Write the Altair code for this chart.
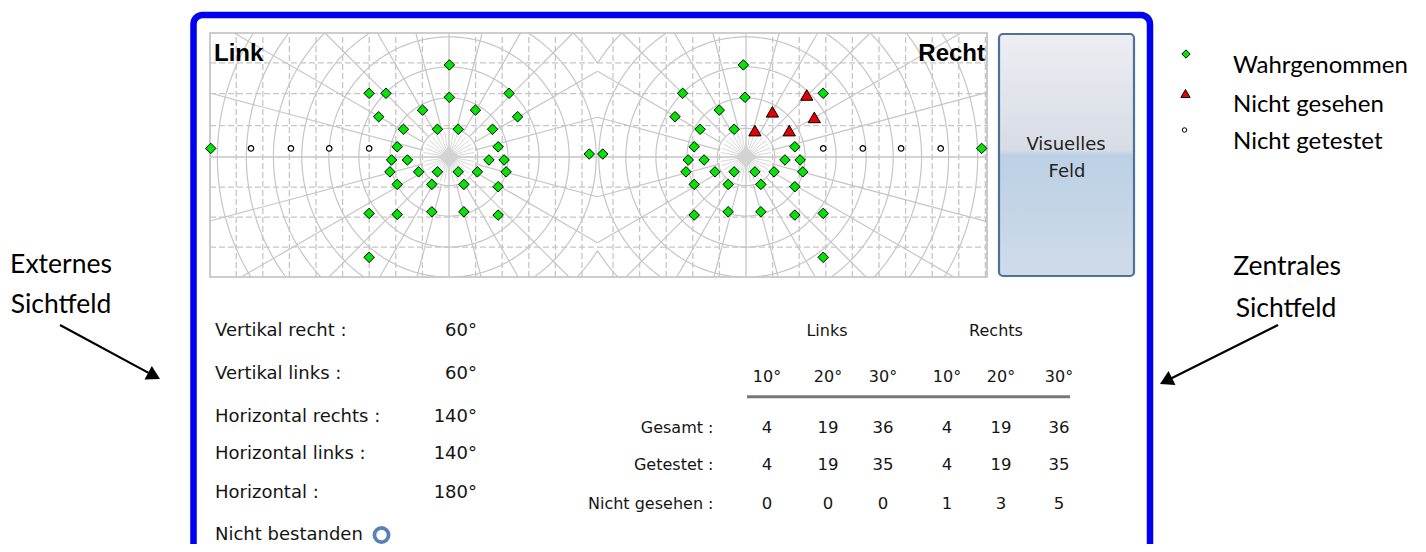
import math
import altair as alt
import numpy as np
import pandas as pd

# ---------------------------------------------------------------- data
# Visual-field test points, in degrees from each eye's fixation point (x right, y up)
left_seen_x = [0.1, -24.2, -19.1, 0.1, 18.2, -21.3, -8.0, 8.0, 20.8, -13.8, -3.5, 2.8, 13.2,
               -15.7, 14.9, -17.4, -12.6, 12.1, 16.7, -17.9, -9.2, -3.5, 2.8, 8.6, 17.3,
               -15.7, -5.2, 4.5, 14.9, -24.2, -15.7, -5.2, 4.5, 14.9, -24.2, -72.2, 42.5, 46.6]
left_seen_y = [27.9, 19.3, 19.3, 18.1, 19.3, 12.2, 14.2, 14.2, 12.2, 8.4, 8.4, 8.4, 8.4,
               3.1, 3.1, -0.9, -0.9, -0.9, -0.9, -4.5, -4.5, -4.5, -4.5, -4.5, -4.5,
               -8.3, -8.3, -8.3, -9.0, -17.1, -17.4, -16.6, -16.6, -17.6, -30.4, 2.6, 0.9, 0.9]
left_untested_x = [-60.0, -47.9, -36.3, -24.2]
left_untested_y = [2.6, 2.6, 2.6, 2.6]

right_seen_x = [-0.8, -19.2, -0.3, 23.4, -21.5, -8.1, -13.9, -3.6, -15.7, 14.8, -17.5, -12.7,
                11.8, 16.4, -18.2, -9.4, -3.6, 2.7, 8.5, 17.2, -15.7, -5.4, 4.5, 14.8,
                -15.7, -5.4, 4.5, 14.8, 23.4, 23.4, 71.4]
right_seen_y = [27.9, 19.3, 18.1, 19.3, 12.2, 14.2, 8.4, 8.4, 3.1, 3.1, -0.9, -0.9,
                -0.9, -0.9, -4.5, -4.5, -4.5, -4.5, -4.5, -4.5, -8.3, -8.3, -8.3, -9.0,
                -17.6, -16.6, -16.6, -17.6, -17.1, -30.4, 2.6]
right_missed_x = [18.4, 8.0, 20.7, 2.7, 13.1]
right_missed_y = [18.8, 13.7, 12.0, 8.0, 8.0]
right_untested_x = [23.4, 35.4, 47.0, 59.0]
right_untested_y = [2.6, 2.6, 2.6, 2.6]

legend_labels = ["Wahrgenommen", "Nicht gesehen", "Nicht getestet"]

extern_labels = ["Vertikal recht :", "Vertikal links :", "Horizontal rechts :",
                 "Horizontal links :", "Horizontal :"]
extern_values = [60, 60, 140, 140, 180]
extern_status = "Nicht bestanden"

table_sides = ["Links", "Rechts"]
table_angles = ["10°", "20°", "30°", "10°", "20°", "30°"]
table_rows = ["Gesamt :", "Getestet :", "Nicht gesehen :"]
gesamt = [4, 19, 36, 4, 19, 36]
getestet = [4, 19, 35, 4, 19, 35]
nicht_gesehen = [0, 0, 0, 1, 3, 5]

annot_left = ["Externes", "Sichtfeld"]
annot_right = ["Zentrales", "Sichtfeld"]
button_lines = ["Visuelles", "Feld"]
eye_titles = ["Link", "Recht"]

# ---------------------------------------------------------------- layout
X0, Y0, W, H = 8, 8, 1410, 536       # page margin and drawing size (page pixels)
PX = 3.3                              # pixels per degree in the field plot
MIDX, CY = 597.5, 157.0               # midline and fixation line of the field plot
EYE = 45.0                            # eye centre offset from midline, degrees
FL, FR, FT, FB = 210, 987, 33, 277    # field box (page pixels)
BX0, BX1 = (FL - MIDX) / PX, (FR - MIDX) / PX
BY0, BY1 = (CY - FB) / PX, (CY - FT) / PX

GRID = "#c6c6c6"
TXT = "#151515"
DLG = "DejaVu Sans"


def sc(kind):
    if kind == "px":
        return (alt.Scale(domain=[X0, X0 + W], nice=False, zero=False),
                alt.Scale(domain=[Y0, Y0 + H], nice=False, zero=False, reverse=True))
    return (alt.Scale(domain=[(X0 - MIDX) / PX, (X0 + W - MIDX) / PX], nice=False, zero=False),
            alt.Scale(domain=[(CY - (Y0 + H)) / PX, (CY - Y0) / PX], nice=False, zero=False))


def enc(kind, x="x", y="y", x2=None, y2=None, **extra):
    sx, sy = sc(kind)
    e = dict(x=alt.X(x, type="quantitative", scale=sx, axis=None),
             y=alt.Y(y, type="quantitative", scale=sy, axis=None))
    if x2:
        e["x2"] = alt.X2(x2)
    if y2:
        e["y2"] = alt.Y2(y2)
    e.update(extra)
    return e


# ---------------------------------------------------------------- grid geometry (decoration)
def clip_seg(x0, y0, x1, y1, xmin, xmax, ymin, ymax):
    dx, dy = x1 - x0, y1 - y0
    u0, u1 = 0.0, 1.0
    for p, q in ((-dx, x0 - xmin), (dx, xmax - x0), (-dy, y0 - ymin), (dy, ymax - y0)):
        if p == 0:
            if q < 0:
                return None
        else:
            t = q / p
            if p < 0:
                u0 = max(u0, t)
            else:
                u1 = min(u1, t)
    if u0 > u1:
        return None
    return (x0 + u0 * dx, y0 + u0 * dy, x0 + u1 * dx, y0 + u1 * dy)


def clip_poly(pts, box):
    paths, cur = [], None
    for a, b in zip(pts[:-1], pts[1:]):
        c = clip_seg(a[0], a[1], b[0], b[1], *box)
        if c is None:
            cur = None
            continue
        if cur is not None and abs(cur[-1][0] - c[0]) < 1e-9 and abs(cur[-1][1] - c[1]) < 1e-9:
            cur.append((c[2], c[3]))
        else:
            cur = [(c[0], c[1]), (c[2], c[3])]
            paths.append(cur)
    return paths


ring_radii = [8.7, 17.9, 27.3, 36.4, 44.6, 53.2, 61.4, 70.2]
rows = []
pid = 0
for cx, box in ((-EYE, (BX0, 0.0, BY0, BY1)), (EYE, (0.0, BX1, BY0, BY1))):
    polys = []
    ang = np.radians(np.arange(0, 361, 1.0))
    for r in ring_radii:
        polys.append(list(zip(cx + r * np.cos(ang), r * np.sin(ang))))
    for a in range(0, 360, 15):
        if a % 90 == 0:
            continue
        t = math.radians(a)
        polys.append([(cx + 8.7 * math.cos(t), 8.7 * math.sin(t)),
                      (cx + 200 * math.cos(t), 200 * math.sin(t))])
    for poly in polys:
        for path in clip_poly(poly, box):
            for k, (xx, yy) in enumerate(path):
                rows.append(dict(pid=pid, k=k, x=xx, y=yy))
            pid += 1
grid_lines = pd.DataFrame(rows)

spokes = []
for cx in (-EYE, EYE):
    for a in range(0, 360, 10):
        t = math.radians(a)
        spokes.append(dict(x=cx + 1.5 * math.cos(t), y=1.5 * math.sin(t),
                           x2=cx + 7.8 * math.cos(t), y2=7.8 * math.sin(t)))
spokes = pd.DataFrame(spokes)

vstep = 8.06
dash_v = [c + vstep * k for c, lo, hi in ((-EYE, BX0, 0.0), (EYE, 0.0, BX1))
          for k in range(-10, 11) if k != 0 and lo < c + vstep * k < hi]
dash_v = pd.DataFrame(dict(x=dash_v, y=BY0, y2=BY1))
dash_h = pd.DataFrame(dict(y=[9.5, 19.2, 28.5, -9.1, -18.2, -27.3], x=BX0, x2=BX1))
axes_v = pd.DataFrame(dict(x=[-EYE, EYE], y=BY0, y2=BY1))
axes_h = pd.DataFrame(dict(y=[0.0], x=BX0, x2=BX1))
centres = pd.DataFrame(dict(x=[-EYE, EYE], y=[0.0, 0.0]))

# ---------------------------------------------------------------- field points
def pts(xs, ys, off):
    return pd.DataFrame(dict(x=[off + v for v in xs], y=ys))

seen = pd.concat([pts(left_seen_x, left_seen_y, -EYE), pts(right_seen_x, right_seen_y, EYE)])
missed = pts(right_missed_x, right_missed_y, EYE)
untested = pd.concat([pts(left_untested_x, left_untested_y, -EYE),
                      pts(right_untested_x, right_untested_y, EYE)])

layers = []

# field box
layers.append(alt.Chart(pd.DataFrame(dict(x=[FL], x2=[FR], y=[FT], y2=[FB])))
              .mark_rect(fill="white", stroke="#bdbdbd", strokeWidth=1.6)
              .encode(**enc("px", x2="x2", y2="y2")))
layers.append(alt.Chart(dash_v).mark_rule(color=GRID, strokeWidth=1.3, strokeDash=[6, 3])
              .encode(**enc("deg", y2="y2")))
layers.append(alt.Chart(dash_h).mark_rule(color=GRID, strokeWidth=1.3, strokeDash=[6, 3])
              .encode(**enc("deg", x2="x2")))
layers.append(alt.Chart(grid_lines).mark_line(color=GRID, strokeWidth=1.2)
              .encode(**enc("deg", detail="pid:N", order="k:Q")))
layers.append(alt.Chart(axes_v).mark_rule(color=GRID, strokeWidth=1.3).encode(**enc("deg", y2="y2")))
layers.append(alt.Chart(axes_h).mark_rule(color=GRID, strokeWidth=1.3).encode(**enc("deg", x2="x2")))
layers.append(alt.Chart(spokes).mark_rule(color="#d2d2d2", strokeWidth=0.9)
              .encode(**enc("deg", x2="x2", y2="y2")))
layers.append(alt.Chart(centres).mark_point(shape="diamond", filled=True, fill="#d3d3d3",
                                            strokeWidth=0, size=441, opacity=1)
              .encode(**enc("deg")))
layers.append(alt.Chart(untested).mark_point(shape="circle", filled=True, fill="white",
                                             stroke="black", strokeWidth=1.2, size=30, opacity=1)
              .encode(**enc("deg")))
layers.append(alt.Chart(seen).mark_point(shape="diamond", filled=True, fill="#00e600",
                                         stroke="black", strokeWidth=1, size=110, opacity=1)
              .encode(**enc("deg")))
layers.append(alt.Chart(missed).mark_point(shape="triangle-up", filled=True, fill="#e60000",
                                           stroke="black", strokeWidth=1, size=150, opacity=1)
              .encode(**enc("deg")))

# eye titles
layers.append(alt.Chart(pd.DataFrame(dict(x=[214], y=[61], t=[eye_titles[0]])))
              .mark_text(font="Liberation Sans", fontWeight="bold", fontSize=24, align="left",
                         baseline="alphabetic", color="black")
              .encode(**enc("px", text="t:N")))
layers.append(alt.Chart(pd.DataFrame(dict(x=[985], y=[61], t=[eye_titles[1]])))
              .mark_text(font="Liberation Sans", fontWeight="bold", fontSize=24, align="right",
                         baseline="alphabetic", color="black")
              .encode(**enc("px", text="t:N")))

# blue frame
layers.append(alt.Chart(pd.DataFrame(dict(x=[193.5], x2=[1150], y=[15], y2=[620])))
              .mark_rect(fill="white", fillOpacity=0, stroke="#0000f2", strokeWidth=6.5,
                         cornerRadius=9)
              .encode(**enc("px", x2="x2", y2="y2")))

# button
grad = alt.Gradient(gradient="linear", x1=0, x2=0, y1=0, y2=1, stops=[
    alt.GradientStop(offset=0, color="#eceef2"),
    alt.GradientStop(offset=0.48, color="#d7dce5"),
    alt.GradientStop(offset=0.5, color="#bcd0e5"),
    alt.GradientStop(offset=1, color="#cfdbe9")])
layers.append(alt.Chart(pd.DataFrame(dict(x=[999], x2=[1134], y=[34], y2=[276])))
              .mark_rect(fill=grad, stroke="#4f7099", strokeWidth=2.2, cornerRadius=4)
              .encode(**enc("px", x2="x2", y2="y2")))
layers.append(alt.Chart(pd.DataFrame(dict(x=[1066, 1067], y=[150, 176.5], t=button_lines)))
              .mark_text(font=DLG, fontSize=18, align="center", baseline="alphabetic", color="#222222")
              .encode(**enc("px", text="t:N")))

# external field block
ext_y = [330.7, 374, 417.3, 454, 493.3]
layers.append(alt.Chart(pd.DataFrame(dict(x=215, y=ext_y, t=extern_labels)))
              .mark_text(font=DLG, fontSize=18, align="left", baseline="middle", color=TXT)
              .encode(**enc("px", text="t:N")))
layers.append(alt.Chart(pd.DataFrame(dict(x=477, y=ext_y, t=[f"{v}°" for v in extern_values])))
              .mark_text(font=DLG, fontSize=18, align="right", baseline="middle", color=TXT)
              .encode(**enc("px", text="t:N")))
layers.append(alt.Chart(pd.DataFrame(dict(x=[215], y=[535], t=[extern_status])))
              .mark_text(font=DLG, fontSize=18, align="left", baseline="middle", color=TXT)
              .encode(**enc("px", text="t:N")))
layers.append(alt.Chart(pd.DataFrame(dict(x=[381.5], y=[535])))
              .mark_point(shape="circle", filled=False, stroke="#5b80b8", strokeWidth=3.8,
                          size=200, opacity=1)
              .encode(**enc("px")))

# central field table
col_x = [767, 828, 883, 947, 1001, 1059]
row_y = [428.3, 465, 504]
layers.append(alt.Chart(pd.DataFrame(dict(x=[827, 996], y=330.7, t=table_sides)))
              .mark_text(font=DLG, fontSize=16, align="center", baseline="middle", color=TXT)
              .encode(**enc("px", text="t:N")))
layers.append(alt.Chart(pd.DataFrame(dict(x=col_x, y=377.3, t=table_angles)))
              .mark_text(font=DLG, fontSize=16, align="center", baseline="middle", color=TXT)
              .encode(**enc("px", text="t:N")))
layers.append(alt.Chart(pd.DataFrame(dict(x=[747], x2=[1070], y=[396.7])))
              .mark_rule(color="#777777", strokeWidth=3)
              .encode(**enc("px", x2="x2")))
layers.append(alt.Chart(pd.DataFrame(dict(x=713.5, y=row_y, t=table_rows)))
              .mark_text(font=DLG, fontSize=16, align="right", baseline="middle", color=TXT)
              .encode(**enc("px", text="t:N")))
cells = pd.DataFrame(dict(
    x=col_x * 3,
    y=[row_y[0]] * 6 + [row_y[1]] * 6 + [row_y[2]] * 6,
    t=[str(v) for v in gesamt + getestet + nicht_gesehen]))
layers.append(alt.Chart(cells)
              .mark_text(font=DLG, fontSize=16.5, align="center", baseline="middle", color=TXT)
              .encode(**enc("px", text="t:N")))

# legend (top right)
leg_mark_y = [54, 93.5, 130]
leg_text_y = [72.5, 111.5, 149]
layers.append(alt.Chart(pd.DataFrame(dict(x=[1186], y=[leg_mark_y[0]])))
              .mark_point(shape="diamond", filled=True, fill="#00e600", stroke="black",
                          strokeWidth=1, size=70, opacity=1).encode(**enc("px")))
layers.append(alt.Chart(pd.DataFrame(dict(x=[1185.5], y=[leg_mark_y[1]])))
              .mark_point(shape="triangle-up", filled=True, fill="#e60000", stroke="black",
                          strokeWidth=1, size=85, opacity=1).encode(**enc("px")))
layers.append(alt.Chart(pd.DataFrame(dict(x=[1184.5], y=[leg_mark_y[2]])))
              .mark_point(shape="circle", filled=True, fill="white", stroke="black",
                          strokeWidth=1, size=20, opacity=1).encode(**enc("px")))
layers.append(alt.Chart(pd.DataFrame(dict(x=1233, y=leg_text_y, t=legend_labels)))
              .mark_text(font="Lato", fontSize=24, align="left", baseline="alphabetic", color="black")
              .encode(**enc("px", text="t:N")))

# annotations with arrows
layers.append(alt.Chart(pd.DataFrame(dict(x=[61, 61, 1287, 1286], y=[273, 313, 275, 317],
                                          t=annot_left + annot_right)))
              .mark_text(font="Lato", fontSize=26.5, align="center", baseline="alphabetic", color="black")
              .encode(**enc("px", text="t:N")))
arrows = pd.DataFrame(dict(x=[60, 1278], y=[325, 325], x2=[154.1, 1166.0], y2=[375.9, 381.0],
                           a=[27.9, 153.4]))
layers.append(alt.Chart(arrows).mark_rule(color="black", strokeWidth=2.2)
              .encode(**enc("px", x2="x2", y2="y2")))
layers.append(alt.Chart(arrows).mark_point(shape="triangle-right", filled=True, fill="black",
                                           strokeWidth=0, size=240, opacity=1)
              .encode(**enc("px", x="x2", y="y2",
                            angle=alt.Angle("a:Q", scale=alt.Scale(domain=[0, 360], range=[0, 360])))))

chart = (alt.layer(*layers)
         .resolve_scale(x="independent", y="independent")
         .properties(width=W, height=H, autosize=alt.AutoSizeParams(type="none"), padding=0)
         .configure_view(strokeWidth=0))

chart.save("out.html", embed_options={"renderer": "svg", "actions": False})
